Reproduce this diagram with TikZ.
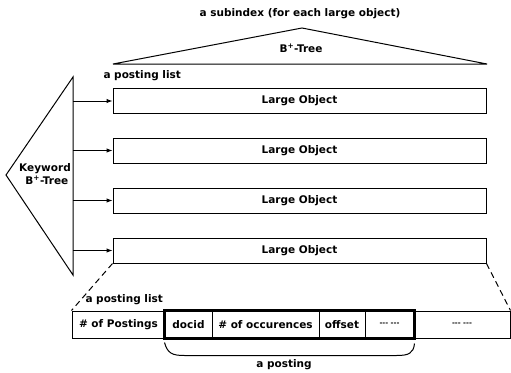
\documentclass[tikz,border=0pt]{standalone}
\usepackage{fontspec}
\setmainfont{DejaVu Sans}
\usetikzlibrary{arrows.meta}
\begin{document}
\begin{tikzpicture}[x=1pt,y=-1pt,
  font=\fontsize{10.5}{12.5}\selectfont\bfseries,
  line width=1pt,
  lobj/.style={draw, minimum width=373pt, minimum height=25pt, inner sep=0pt},
  cell/.style={draw, minimum height=27pt, inner sep=0pt},
  lbl/.style={inner sep=0pt},
  arr/.style={-{Latex[length=6pt,width=4.5pt]}}]
\useasboundingbox (0,0) rectangle (511,372);

% top subindex tree
\coordinate (tl) at (113,64);
\coordinate (ta) at (302,28);
\coordinate (tr) at (487,64);
\draw (tl) -- (ta) -- (tr) -- cycle;
\node[lbl] (sub) at (300,14) {a subindex (for each large object)};
\node[lbl] (btree) at (301,48) {B\textsuperscript{+}-Tree};

% keyword tree
\coordinate (ka) at (6,175);
\coordinate (kt) at (73,77);
\coordinate (kb) at (73,275);
\draw (ka) -- (kt) -- (kb) -- cycle;
\node[lbl, align=center] (kw) at (45,174) {Keyword\\\ B\textsuperscript{+}-Tree};

\node[lbl, anchor=west] (pl1) at (103,76) {a posting list};

% large objects
\node[lobj] (lo1) at (299.5,101) {Large Object};
\node[lobj] (lo2) at (299.5,150.5) {Large Object};
\node[lobj] (lo3) at (299.5,200.5) {Large Object};
\node[lobj] (lo4) at (299.5,250.5) {Large Object};

\foreach \i in {1,2,3,4}
  \draw[arr] (lo\i.west -| kt) -- (lo\i.west);

% posting list row
\node[cell, minimum width=93pt] (c0) at (118.5,324.5) {\# of Postings};
\node[cell, minimum width=47pt] (c1) at (188.5,324.5) {docid};
\node[cell, minimum width=107pt] (c2) at (265.5,324.5) {\# of occurences};
\node[cell, minimum width=46pt] (c3) at (342,324.5) {offset};
\node[cell, minimum width=49pt] (c4) at (389.5,324.5) {\fontsize{7}{8}\selectfont -{}-{}- -{}-{}-};
\node[cell, minimum width=96pt] (c5) at (462,324.5) {\fontsize{7}{8}\selectfont -{}-{}- -{}-{}-};
\draw[line width=2.2pt] (c1.north west) rectangle (c4.south east);

\node[lbl, anchor=west] (pl2) at (85,300) {a posting list};

\draw[dashed, dash pattern=on 6pt off 4pt] (lo4.south west) -- (c0.north west);
\draw[dashed, dash pattern=on 6pt off 4pt] (lo4.south east) -- (c5.north east);

% brace
\draw ([yshift=-4pt]c1.south west) .. controls +(3,11) and +(-12,0) .. ([shift={(20,17)}]c1.south west)
  -- ([shift={(-18,17)}]c4.south east) .. controls +(12,0) and +(-1,10) .. ([yshift=-5pt]c4.south east);
\node[lbl] (post) at (284,365) {a posting};
\end{tikzpicture}
\end{document}
